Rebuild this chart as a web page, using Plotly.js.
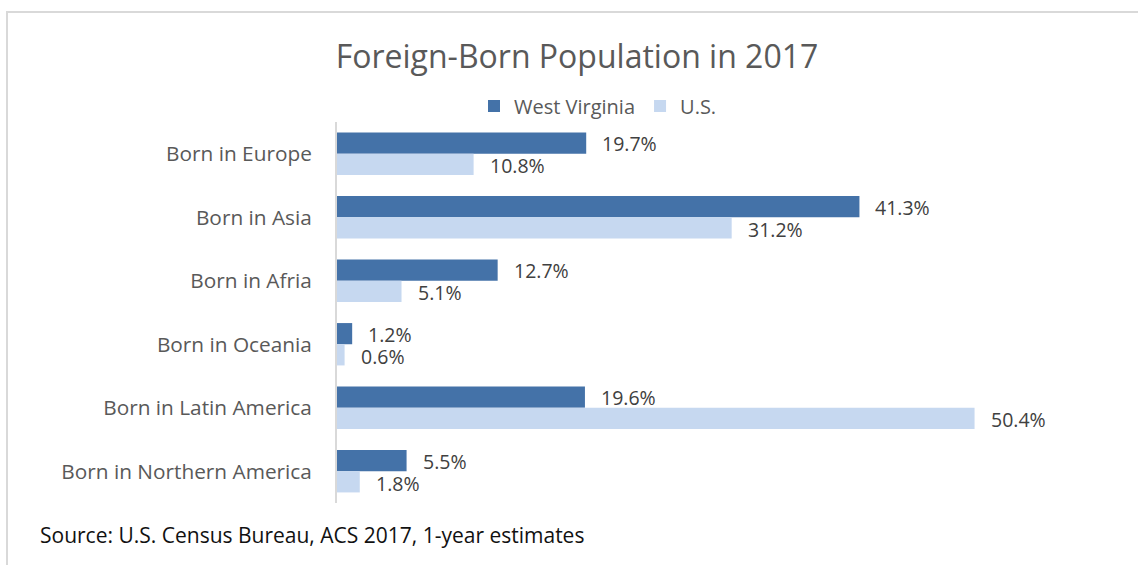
<!DOCTYPE html>
<html>
<head>
<meta charset="utf-8">
<script src="https://cdn.plot.ly/plotly-3.0.1.min.js"></script>
<style>
  html, body { margin: 0; padding: 0; background: #fff; }
  #wrap { position: relative; width: 1138px; height: 565px; overflow: hidden; }
  #chart { position: absolute; left: 0; top: 0; width: 1138px; height: 565px; }
  #frame { position: absolute; left: 6px; top: 11px; width: 1140px; height: 600px;
           border-top: 2px solid #d9d9d9; border-left: 2px solid #d9d9d9; pointer-events: none; }
</style>
</head>
<body>
<div id="wrap">
  <div id="chart"></div>
  <div id="frame"></div>
</div>
<script>
const categories = ["Born in Europe", "Born in Asia", "Born in Afria", "Born in Oceania", "Born in Latin America", "Born in Northern America"];
const seriesNames = ["West Virginia", "U.S."];
const westVirginia = [19.7, 41.3, 12.7, 1.2, 19.6, 5.5];
const us = [10.8, 31.2, 5.1, 0.6, 50.4, 1.8];
const titleText = "Foreign-Born Population in 2017";
const sourceText = "Source: U.S. Census Bureau, ACS 2017, 1-year estimates";

const FONT = "'Open Sans', 'Noto Sans', sans-serif";
const colors = ["#4472A8", "#C6D8F0"];
const seriesValues = [westVirginia, us];

const traces = seriesValues.map((vals, i) => ({
  type: "bar",
  orientation: "h",
  name: seriesNames[i],
  x: vals,
  y: categories,
  marker: { color: colors[i], line: { width: 0 } },
  hoverinfo: "x+y+name"
}));

const annotations = [];
seriesValues.forEach((vals, i) => {
  vals.forEach((v, j) => {
    annotations.push({
      x: v, y: categories[j], xref: "x", yref: "y",
      text: v.toFixed(1) + "%",
      showarrow: false, xanchor: "left", yanchor: "middle",
      xshift: 15, yshift: i === 0 ? 10 : -12,
      borderpad: 0,
      font: { family: FONT, size: 19.5, color: "#404040" }
    });
  });
});
annotations.push({
  x: 38, y: 535, xref: "paper", yref: "paper",
  text: sourceText, showarrow: false, xanchor: "left", yanchor: "middle",
  font: { family: FONT, size: 21, color: "#111111" }
});

const layout = {
  width: 1138, height: 565,
  margin: { l: 337, r: 42, t: 122, b: 62 },
  paper_bgcolor: "rgba(0,0,0,0)", plot_bgcolor: "rgba(0,0,0,0)",
  title: {
    text: titleText, x: 0.507, xanchor: "center", y: 0.9, yref: "container", yanchor: "middle",
    font: { family: FONT, size: 32, color: "#595959" }
  },
  showlegend: true,
  legend: {
    orientation: "h", x: 0.507, xanchor: "center", y: 106, yanchor: "middle",
    font: { family: FONT, size: 20, color: "#595959" },
    traceorder: "normal", itemwidth: 30
  },
  barmode: "group",
  bargap: 0.333,
  bargroupgap: 0,
  xaxis: {
    range: [0, 60], showgrid: false, zeroline: false, showticklabels: false,
    showline: false, ticks: "", fixedrange: true
  },
  yaxis: {
    autorange: "reversed", type: "category",
    showline: true, linecolor: "#d9d9d9", linewidth: 2,
    ticks: "", showgrid: false, ticklabelstandoff: 19,
    tickfont: { family: FONT, size: 20.8, color: "#595959" }
  },
  annotations: annotations
};

// convert pixel positions for legend, title and source into paper coords
const plotH = layout.height - layout.margin.t - layout.margin.b;
const plotW = layout.width - layout.margin.l - layout.margin.r;
layout.legend.y = (layout.height - layout.margin.b - 106) / plotH;
layout.legend.x = (598 - layout.margin.l) / plotW;
layout.legend.xanchor = "center";
const src = annotations[annotations.length - 1];
src.x = (38 - layout.margin.l) / plotW;
src.y = (layout.height - layout.margin.b - 535) / plotH;
layout.title.y = 1 - 57 / layout.height;
layout.title.x = 577 / layout.width;

Plotly.newPlot("chart", traces, layout, { displayModeBar: false, staticPlot: false });
</script>
</body>
</html>
